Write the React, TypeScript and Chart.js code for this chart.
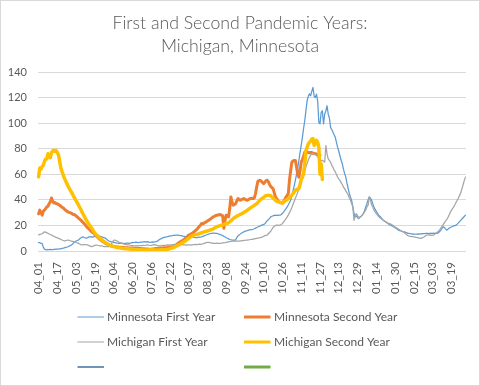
import React, { useEffect, useRef } from 'react';
import { Chart, registerables } from 'chart.js';

Chart.register(...registerables);

const TITLE_LINES = ['First and Second Pandemic Years:', 'Michigan, Minnesota'];

// Months of the pandemic year (April to March) with their day counts
const MONTHS = ['04', '05', '06', '07', '08', '09', '10', '11', '12', '01', '02', '03'];
const MONTH_DAYS = [30, 31, 30, 31, 31, 30, 31, 30, 31, 31, 28, 31];

const LABELS: string[] = [];
MONTHS.forEach((m, mi) => {
  for (let d = 1; d <= MONTH_DAYS[mi]; d++) LABELS.push(`${m}_${d < 10 ? '0' + d : d}`);
});

const TICK_LABELS = [
  '04_01', '04_17', '05_03', '05_19', '06_04', '06_20', '07_06', '07_22', '08_07', '08_23', '09_08', '09_24',
  '10_10', '10_26', '11_11', '11_27', '12_13', '12_29', '01_14', '01_30', '02_15', '03_03', '03_19',
];

const SERIES_NAMES = ['Minnesota First Year', 'Minnesota Second Year', 'Michigan First Year', 'Michigan Second Year', '', ''];

const MINNESOTA_FIRST = [
  6.5, 6.5, 6.0, 6.0, 3.0, 1.5, 1.0, 0.9, 1.1, 1.0,
  1.2, 1.0, 1.1, 1.3, 1.2, 1.4, 1.5, 1.4, 1.6, 1.7,
  2.0, 2.2, 2.5, 2.8, 3.0, 3.3, 3.8, 4.2, 4.7, 5.5,
  6.5, 7.3, 7.8, 8.2, 8.6, 9.5, 10.2, 10.8, 11.0, 10.5,
  10.2, 10.0, 10.6, 11.0, 11.0, 11.3, 10.8, 11.0, 11.8, 12.2,
  12.5, 12.1, 11.6, 11.3, 11.0, 10.6, 10.3, 10.0, 9.2, 8.5,
  7.8, 7.5, 7.2, 6.9, 6.7, 6.5, 6.3, 6.1, 6.0, 6.0,
  5.9, 6.1, 6.0, 5.8, 6.0, 6.2, 6.1, 6.0, 6.2, 6.4,
  6.7, 6.6, 6.7, 6.9, 6.8, 6.6, 6.7, 6.9, 7.0, 7.2,
  7.1, 7.3, 7.0, 7.3, 7.0, 6.8, 6.9, 7.1, 7.0, 7.2,
  7.3, 7.5, 8.2, 8.9, 9.4, 9.9, 10.3, 10.6, 10.9, 11.1,
  11.2, 11.5, 11.8, 11.9, 12.0, 12.2, 12.3, 12.5, 12.5, 12.4,
  12.3, 12.1, 12.0, 11.7, 11.5, 11.2, 11.1, 11.1, 11.0, 11.2,
  11.1, 11.1, 10.9, 10.6, 10.5, 10.4, 10.6, 10.8, 10.9, 11.1,
  11.5, 11.8, 12.2, 12.5, 12.9, 13.2, 13.5, 13.7, 13.8, 14.0,
  13.9, 13.8, 13.8, 13.5, 13.2, 12.8, 12.5, 12.0, 11.5, 11.0,
  10.4, 10.0, 9.5, 9.0, 8.8, 8.6, 8.5, 8.6, 8.6, 10.5,
  11.8, 12.5, 13.2, 14.0, 14.5, 15.0, 15.4, 15.8, 16.0, 16.3,
  16.5, 16.7, 16.8, 17.0, 17.4, 17.9, 18.4, 18.8, 19.2, 19.6,
  20.0, 20.4, 20.8, 21.3, 22.5, 23.8, 24.5, 25.5, 26.7, 27.2,
  27.5, 27.8, 28.0, 27.9, 27.8, 28.1, 28.0, 28.6, 29.5, 30.6,
  31.8, 33.2, 34.5, 36.2, 38.0, 39.7, 43.0, 47.0, 51.0, 55.5,
  60.0, 65.0, 71.0, 77.0, 83.0, 89.0, 96.0, 102.0, 110.0, 117.5,
  121.0, 123.0, 121.4, 125.0, 127.9, 121.0, 120.0, 122.7, 117.5, 100.6,
  99.4, 108.4, 109.7, 99.4, 107.0, 109.7, 113.6, 107.0, 104.0, 96.7,
  95.0, 93.0, 91.0, 89.0, 85.0, 81.2, 78.0, 74.5, 71.0, 68.2,
  64.0, 60.5, 57.8, 53.0, 49.0, 45.0, 42.0, 39.5, 34.5, 29.3,
  26.7, 27.5, 26.0, 25.4, 26.3, 27.0, 28.0, 29.3, 31.5, 34.5,
  37.0, 40.0, 42.3, 41.5, 39.7, 37.0, 34.5, 32.5, 31.0, 29.5,
  28.0, 27.2, 26.2, 25.0, 24.0, 23.4, 22.8, 22.2, 21.5, 20.8,
  20.2, 19.8, 19.3, 18.8, 18.2, 17.6, 17.0, 16.3, 16.0, 15.7,
  15.4, 15.2, 14.9, 14.6, 14.2, 13.8, 13.7, 13.5, 13.4, 13.2,
  13.3, 13.1, 13.2, 13.2, 13.3, 13.2, 13.5, 13.4, 13.6, 13.5,
  13.7, 13.8, 13.8, 13.6, 13.9, 13.8, 13.7, 13.9, 13.8, 14.0,
  13.8, 14.3, 15.2, 16.3, 17.5, 19.0, 18.4, 17.3, 16.3, 17.0,
  17.8, 18.4, 18.8, 19.2, 19.6, 19.9, 20.2, 21.0, 22.0, 23.0,
  24.0, 25.0, 26.0, 27.0, 28.0,
];

const MINNESOTA_SECOND = [
  29, 32, 30, 28, 31, 32, 33, 34.5, 35, 37,
  38.4, 41.5, 39, 37.5, 38, 37, 37, 36.3, 35.8, 35,
  34.2, 33.7, 32.8, 32, 31.2, 30.6, 30.2, 30, 29.5, 28.8,
  28.6, 28.2, 27.5, 26.6, 25.8, 25, 24.1, 23.2, 22.3, 21.2,
  20.1, 19, 18.1, 17.2, 16.3, 15.4, 14.6, 13.8, 12.8, 11.9,
  11.1, 10.2, 9.3, 8.6, 7.9, 7.3, 6.7, 6.0, 5.5, 5.1,
  4.7, 4.3, 3.9, 3.7, 3.5, 3.4, 3.3, 3.2, 3.1, 3.0,
  2.9, 2.9, 2.8, 2.7, 2.6, 2.5, 2.5, 2.4, 2.4, 2.3,
  2.3, 2.2, 2.2, 2.1, 2.0, 2.0, 1.9, 1.9, 1.8, 1.7,
  1.7, 1.6, 1.5, 1.5, 1.4, 1.3, 1.4, 1.5, 1.6, 1.8,
  1.9, 2.0, 2.1, 2.2, 2.3, 2.3, 2.4, 2.5, 2.5, 2.6,
  2.7, 2.9, 3.1, 3.2, 3.3, 3.4, 3.9, 4.6, 5.3, 6.0,
  6.6, 7.2, 7.8, 8.3, 8.9, 9.7, 10.6, 11.5, 12.5, 12.9,
  13.3, 13.8, 14.6, 15.4, 16.2, 17.0, 18.0, 19.2, 20.2, 21.5,
  21.2, 21.8, 22.3, 22.8, 23.4, 24.0, 24.6, 25.3, 26.0, 26.7,
  27.2, 27.6, 28.0, 28.2, 28.4, 28.5, 28.0, 27.5, 17.7, 24.0,
  28.0, 27.3, 26.7, 33.2, 42.3, 38.0, 35.8, 36.4, 37.0, 39.0,
  41.0, 40.4, 39.7, 40.2, 40.6, 41.0, 40.5, 40.0, 39.7, 40.3,
  40.8, 41.0, 41.2, 41.0, 41.5, 44.9, 50.0, 54.5, 55.0, 55.3,
  54.5, 53.5, 52.7, 53.8, 55.0, 55.3, 54.0, 52.0, 50.5, 49.5,
  48.8, 45.5, 42.3, 41.0, 39.6, 38.4, 38.0, 37.8, 37.6, 38.8,
  40.5, 42.3, 43.5, 45.0, 56.0, 63.0, 69.5, 70.5, 70.8, 70.8,
  65.6, 60.0, 57.8, 63.0, 69.5, 71.5, 74.0, 77.3, 77.0, 77.2,
  77.0, 76.8, 77.0, 77.0, 76.5, 76.3, 76.0, 75.8, 75.5, 75.3,
  75.0,
];

const MICHIGAN_FIRST = [
  12.5, 13.0, 13.2, 13.5, 14.2, 15.0, 14.8, 14.3, 13.8, 13.3,
  12.9, 12.5, 12.0, 11.5, 11.0, 10.6, 10.3, 10.0, 9.5, 9.0,
  8.6, 8.2, 7.8, 8.1, 8.4, 8.6, 8.3, 8.0, 7.8, 7.6,
  7.4, 7.3, 6.9, 6.4, 6.0, 5.5, 5.0, 4.7, 4.9, 5.0,
  4.9, 4.8, 4.7, 4.2, 3.8, 3.4, 3.6, 4.0, 4.4, 4.7,
  4.5, 4.3, 4.1, 4.0, 4.0, 3.7, 3.5, 3.4, 3.4, 3.5,
  3.4, 3.8, 5.0, 7.0, 8.3, 8.6, 8.2, 7.8, 7.2, 6.6,
  6.3, 6.0, 5.7, 5.4, 5.2, 5.0, 4.8, 4.7, 4.5, 4.3,
  4.2, 4.1, 4.0, 4.1, 4.2, 4.0, 4.3, 4.2, 4.2, 4.4,
  4.3, 4.5, 4.6, 4.7, 4.5, 4.3, 4.4, 4.6, 4.8, 5.0,
  4.7, 4.4, 4.2, 4.0, 4.1, 4.3, 4.4, 4.5, 4.3, 4.6,
  4.7, 4.6, 4.7, 4.8, 4.9, 5.0, 5.1, 5.0, 5.2, 5.1,
  5.3, 5.2, 5.0, 4.9, 4.8, 4.7, 4.6, 4.7, 4.8, 4.7,
  4.6, 4.8, 4.9, 5.0, 5.1, 5.0, 5.1, 5.3, 5.2, 5.4,
  5.6, 5.9, 6.2, 6.5, 6.7, 6.7, 6.6, 6.4, 6.2, 6.0,
  5.9, 6.0, 6.1, 6.0, 5.9, 6.0, 6.1, 6.3, 6.4, 6.5,
  6.7, 6.9, 7.1, 7.3, 7.5, 7.7, 7.8, 7.9, 7.8, 7.7,
  7.8, 7.8, 7.9, 8.0, 8.2, 8.3, 8.4, 8.6, 8.6, 8.7,
  8.8, 9.0, 9.1, 9.3, 9.5, 9.7, 9.9, 10.1, 10.3, 10.4,
  10.7, 11.0, 11.5, 12.0, 12.3, 12.5, 13.5, 14.5, 15.5, 17.0,
  18.5, 19.3, 19.8, 20.2, 20.3, 20.1, 20.2, 20.8, 21.6, 22.8,
  24.0, 25.3, 26.7, 28.3, 30.0, 31.9, 34.0, 36.5, 39.0, 41.2,
  43.5, 46.0, 49.0, 52.0, 54.5, 56.8, 59.5, 62.5, 65.6, 68.5,
  71.0, 73.4, 75.0, 76.0, 76.5, 76.0, 75.5, 74.7, 73.8, 72.5,
  71.2, 70.5, 71.0, 70.2, 69.5, 82.5, 76.0, 72.0, 70.8, 69.5,
  67.0, 65.6, 63.5, 62.0, 59.8, 57.8, 56.5, 55.3, 53.5, 52.0,
  50.0, 48.8, 47.0, 45.5, 44.0, 41.5, 39.7, 37.0, 34.5, 24.0,
  27.5, 29.3, 27.5, 26.7, 26.5, 27.2, 28.0, 29.3, 30.6, 31.9,
  34.5, 35.8, 42.3, 39.7, 36.0, 34.5, 32.0, 30.6, 29.3, 28.0,
  27.0, 26.1, 25.4, 24.8, 24.0, 23.3, 22.7, 22.2, 21.8, 21.5,
  21.2, 20.7, 20.1, 19.4, 18.8, 18.2, 17.7, 17.0, 16.4, 15.9,
  15.4, 15.0, 14.2, 13.4, 12.6, 12.0, 11.7, 11.5, 11.3, 11.2,
  11.1, 10.9, 10.7, 10.5, 10.3, 10.1, 9.9, 10.2, 10.6, 11.2,
  11.9, 12.5, 12.7, 12.4, 12.6, 12.3, 12.5, 12.5, 13.2, 13.9,
  14.6, 15.5, 16.5, 18.0, 19.3, 20.6, 22.0, 23.3, 24.6, 26.0,
  28.0, 30.0, 31.8, 33.2, 34.5, 36.2, 38.0, 39.7, 41.5, 43.5,
  45.5, 48.5, 51.8, 55.0, 57.8,
];

const MICHIGAN_SECOND = [
  58, 65, 64, 66, 67, 70, 72, 72, 76, 75,
  73, 77, 78, 79, 78, 78.5, 77, 75, 70, 65,
  62, 59.5, 57, 55, 53, 51, 49.3, 47.6, 46, 44.3,
  42.6, 41, 39.3, 37.6, 36, 34.2, 32.4, 30.6, 28.8, 27,
  25.2, 23.8, 22.3, 20.8, 19.5, 18.2, 16.8, 15.3, 13.8, 12.9,
  12, 11.1, 10.3, 9.4, 8.6, 7.9, 7.2, 6.6, 6, 5.5,
  5, 4.5, 4.1, 3.8, 3.5, 3.2, 3, 2.8, 2.6, 2.5,
  2.3, 2.2, 2.0, 1.9, 1.8, 1.8, 1.7, 1.6, 1.5, 1.4,
  1.4, 1.3, 1.2, 1.1, 1.0, 1.0, 0.9, 0.9, 0.8, 0.8,
  0.7, 0.7, 0.8, 0.8, 0.9, 0.9, 1.0, 0.9, 0.8, 0.7,
  0.7, 0.6, 0.7, 0.8, 0.8, 0.9, 0.9, 1.0, 1.0, 1.1,
  1.3, 1.5, 1.8, 2.1, 2.4, 2.7, 3.2, 3.6, 4.0, 4.5,
  5.0, 5.4, 6.0, 6.6, 7.2, 7.8, 8.5, 9.2, 9.9, 10.6,
  11.4, 12.0, 12.3, 12.6, 12.8, 13.0, 13.3, 13.6, 14.0, 14.3,
  14.6, 14.9, 15.2, 15.5, 15.7, 16.0, 16.3, 16.6, 16.9, 17.4,
  17.9, 18.5, 19.0, 19.3, 19.6, 19.9, 20.2, 20.5, 20.8, 21.1,
  21.4, 21.6, 22.2, 22.8, 23.5, 24.5, 25.4, 26.0, 26.6, 27.2,
  27.7, 28.2, 28.7, 29.1, 29.5, 30.1, 30.7, 31.3, 31.9, 32.6,
  33.2, 33.9, 34.5, 35.1, 35.7, 36.4, 37.0, 38.0, 39.0, 40.0,
  40.7, 41.3, 42.0, 42.8, 43.3, 43.5, 43.6, 43.5, 43.2, 42.3,
  41.4, 40.5, 39.7, 39.0, 38.6, 38.4, 38.0, 37.8, 37.6, 38.2,
  39.0, 39.7, 40.3, 41.0, 41.8, 42.8, 43.6, 45.0, 46.3, 47.5,
  48.0, 48.5, 48.8, 52.0, 56.0, 57.8, 60.5, 68.2, 78.6, 81.0,
  83.8, 85.0, 86.0, 87.5, 88.0, 82.5, 84.0, 86.5, 85.0, 81.0,
  60.0, 68.0, 56.0,
];

const COLORS = ['#5B9BD5', '#ED7D31', '#A5A5A5', '#FFC000', '#41719C', '#70AD47'];
const LINE_WIDTHS = [1.25, 3, 1.25, 3.5, 1.5, 3];
const LEGEND_WIDTHS = [1, 3, 1, 3, 1.5, 3];
const DRAW_ORDER = [4, 3, 2, 1, 5, 6];

const SERIES = [MINNESOTA_FIRST, MINNESOTA_SECOND, MICHIGAN_FIRST, MICHIGAN_SECOND, [], []];

const TEXT_COLOR = '#595959';
const FONT = 'Lato, "Open Sans", sans-serif';

const pad = (arr: number[]) => LABELS.map((_, i) => (i < arr.length ? arr[i] : null));

const excelDecor = {
  id: 'excelDecor',
  afterDraw(chart: any) {
    const ctx = chart.ctx as CanvasRenderingContext2D;
    ctx.save();
    // Title
    ctx.fillStyle = TEXT_COLOR;
    ctx.font = `300 17.7px ${FONT}`;
    ctx.textAlign = 'center';
    ctx.textBaseline = 'alphabetic';
    const cx = chart.width / 2;
    TITLE_LINES.forEach((t, i) => ctx.fillText(t, cx, 27.5 + i * 23.4));
    // Legend (two columns grid)
    const colLine = [76.5, 243];
    const colText = [106, 273];
    const rowY = [316, 341, 366];
    ctx.font = `12px ${FONT}`;
    ctx.textAlign = 'left';
    ctx.textBaseline = 'middle';
    chart.data.datasets.forEach((ds: any, i: number) => {
      const col = i % 2;
      const row = Math.floor(i / 2);
      const y = rowY[row];
      ctx.beginPath();
      ctx.strokeStyle = ds.borderColor;
      ctx.lineWidth = LEGEND_WIDTHS[i];
      ctx.lineCap = 'butt';
      ctx.moveTo(colLine[col], y);
      ctx.lineTo(colLine[col] + 26.5, y);
      ctx.stroke();
      if (ds.label) {
        ctx.fillStyle = TEXT_COLOR;
        ctx.fillText(ds.label, colText[col], y + 0.5);
      }
    });
    ctx.restore();
  },
};

export default function App() {
  const canvasRef = useRef<HTMLCanvasElement | null>(null);

  useEffect(() => {
    if (!canvasRef.current) return;
    const tickSet = new Set(TICK_LABELS);
    const chart = new Chart(canvasRef.current, {
      type: 'line',
      data: {
        labels: LABELS,
        datasets: SERIES.map((s, i) => ({
          label: SERIES_NAMES[i],
          data: pad(s),
          borderColor: COLORS[i],
          backgroundColor: COLORS[i],
          borderWidth: LINE_WIDTHS[i],
          pointRadius: 0,
          pointHoverRadius: 0,
          fill: false,
          tension: 0,
          borderJoinStyle: 'round',
          borderCapStyle: 'round',
          order: DRAW_ORDER[i],
          spanGaps: false,
        })),
      },
      options: {
        animation: false,
        responsive: false,
        events: [],
        layout: { padding: { top: 71, left: 0, right: 13, bottom: 0 } },
        plugins: {
          legend: { display: false },
          title: { display: false },
          tooltip: { enabled: false },
        },
        scales: {
          x: {
            type: 'category',
            offset: true,
            grid: { display: false, drawTicks: false },
            border: { display: false },
            ticks: {
              autoSkip: false,
              minRotation: 90,
              maxRotation: 90,
              padding: 11,
              color: TEXT_COLOR,
              font: { family: FONT, size: 11.5 },
              callback: (_v: any, i: number) => (tickSet.has(LABELS[i]) ? LABELS[i] : null),
            },
            afterFit: (s: any) => {
              s.height = 134;
            },
          },
          y: {
            min: 0,
            max: 140,
            ticks: {
              stepSize: 20,
              padding: 11,
              color: TEXT_COLOR,
              font: { family: FONT, size: 11 },
            },
            grid: { color: '#D9D9D9', drawTicks: false, lineWidth: 1 },
            border: { display: false },
            afterFit: (s: any) => {
              s.width = 37;
            },
          },
        },
      } as any,
      plugins: [excelDecor],
    });
    return () => chart.destroy();
  }, []);

  return (
    <div
      style={{
        position: 'absolute',
        left: 0,
        top: 0,
        width: 480,
        height: 386,
        boxSizing: 'border-box',
        border: '1px solid #D9D9D9',
        background: '#fff',
      }}
    >
      <canvas ref={canvasRef} width={478} height={384} style={{ display: 'block' }} />
    </div>
  );
}
